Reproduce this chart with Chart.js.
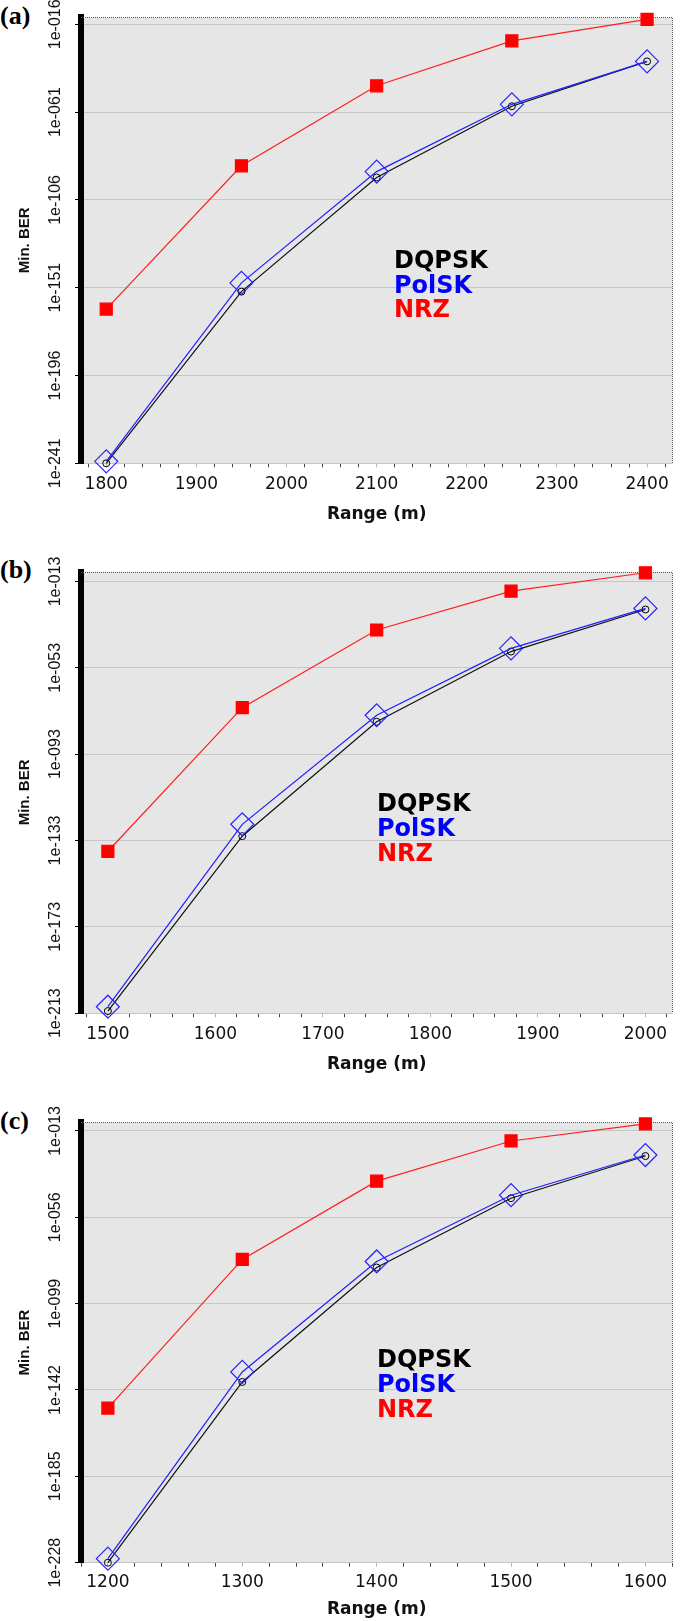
<!DOCTYPE html>
<html>
<head>
<meta charset="utf-8">
<script src="https://cdn.jsdelivr.net/npm/chart.js@4.4.1/dist/chart.umd.min.js"></script>
<style>
  html, body { margin: 0; padding: 0; background: #fff; overflow: hidden; }
  body { width: 685px; height: 1621px; position: relative; }
  canvas { position: absolute; left: 0; }
  .tag { position: absolute; left: 0; font: bold 26px "Liberation Serif", serif; line-height: 26px; color: #000; }
</style>
</head>
<body>
<div class="tag" style="top:3px">(a)</div>
<div class="tag" style="top:557px">(b)</div>
<div class="tag" style="top:1108px">(c)</div>
<canvas id="chartA" width="685" height="530" style="top:0px"></canvas>
<canvas id="chartB" width="685" height="530" style="top:550px"></canvas>
<canvas id="chartC" width="685" height="521" style="top:1100px"></canvas>
<script>
// y values are log10(Min. BER), the axis prints them as 1e-xxx
const seriesNames = ['DQPSK', 'PolSK', 'NRZ'];
const seriesColors = ['#000000', '#0000ff', '#ff0000'];

// (a)
const rangeA = [1800, 1950, 2100, 2250, 2400];
const dqpskA = [-241, -153, -94.5, -58, -35];
const polskA = [-240, -148.5, -91.5, -57, -35];
const nrzA = [-162, -88.5, -47.5, -24.5, -13.5];
const xLabelsA = [1800, 1900, 2000, 2100, 2200, 2300, 2400];
const yTicksA = [-241, -196, -151, -106, -61, -16];

// (b)
const rangeB = [1500, 1625, 1750, 1875, 2000];
const dqpskB = [-212, -131, -78, -45.5, -26];
const polskB = [-210, -125.5, -75, -44, -25.5];
const nrzB = [-138, -71.5, -35.5, -17.5, -9];
const xLabelsB = [1500, 1600, 1700, 1800, 1900, 2000];
const yTicksB = [-213, -173, -133, -93, -53, -13];

// (c)
const rangeC = [1200, 1300, 1400, 1500, 1600];
const dqpskC = [-228, -138, -81, -46.5, -25.5];
const polskC = [-226, -133, -78, -45, -25];
const nrzC = [-151, -77, -38, -18, -9.5];
const xLabelsC = [1200, 1300, 1400, 1500, 1600];
const yTicksC = [-228, -185, -142, -99, -56, -13];

// grey plot area, dotted top/right frame and the text legend
const panelDeco = {
  id: 'panelDeco',
  beforeDraw(chart) {
    const { ctx, chartArea: a } = chart;
    ctx.save();
    ctx.fillStyle = '#e6e6e6';
    ctx.fillRect(a.left, a.top, a.right - a.left, a.bottom - a.top);
    ctx.restore();
  },
  beforeDatasetsDraw(chart) {
    const { ctx, chartArea: a } = chart;
    const t = Math.round(a.top) + 0.5;
    const r = Math.round(a.right) + 0.5;
    ctx.save();
    ctx.strokeStyle = '#555';
    ctx.lineWidth = 1;
    ctx.setLineDash([1, 1]);
    ctx.beginPath();
    ctx.moveTo(a.left, t);
    ctx.lineTo(r, t);
    ctx.lineTo(r, a.bottom);
    ctx.stroke();
    ctx.restore();
  },
  afterDatasetsDraw(chart, args, opts) {
    const { ctx, chartArea: a } = chart;
    ctx.save();
    ctx.font = 'bold 24px "DejaVu Sans", sans-serif';
    ctx.textAlign = 'left';
    ctx.textBaseline = 'alphabetic';
    seriesNames.forEach((name, i) => {
      ctx.fillStyle = seriesColors[i];
      ctx.fillText(name, a.left + opts.dx, a.top + opts.dy + i * opts.step);
    });
    ctx.restore();
  }
};

function pts(xs, ys) {
  return ys.map((v, i) => ({ x: xs[i], y: v }));
}

function makeChart(cfg) {
  const minorTicks = [];
  for (let v = Math.ceil(cfg.xMin / 20) * 20; v <= cfg.xMax; v += 20) minorTicks.push(v);

  return new Chart(document.getElementById(cfg.id), {
    type: 'line',
    data: {
      datasets: [
        {
          label: 'PolSK',
          data: pts(cfg.range, cfg.polsk),
          borderColor: '#1f1fff',
          borderWidth: 1.2,
          pointStyle: 'rectRot',
          pointRadius: 11.5,
          pointBorderColor: '#2424ff',
          pointBackgroundColor: 'rgba(0,0,0,0)',
          pointBorderWidth: 1.2,
          order: 0
        },
        {
          label: 'DQPSK',
          data: pts(cfg.range, cfg.dqpsk),
          borderColor: '#111',
          borderWidth: 1.2,
          pointStyle: 'circle',
          pointRadius: 3.5,
          pointBorderColor: '#000',
          pointBackgroundColor: 'rgba(0,0,0,0)',
          pointBorderWidth: 1,
          order: 1
        },
        {
          label: 'NRZ',
          data: pts(cfg.range, cfg.nrz),
          borderColor: '#ff1f1f',
          borderWidth: 1.2,
          pointStyle: 'rect',
          pointRadius: 8.5,
          pointBorderColor: '#ff0000',
          pointBackgroundColor: '#ff0000',
          order: 2
        }
      ]
    },
    options: {
      responsive: false,
      animation: false,
      events: [],
      layout: { padding: { top: cfg.padTop, right: 5, left: 0, bottom: 0 } },
      elements: { line: { tension: 0 } },
      datasets: { line: { clip: false } },
      scales: {
        x: {
          type: 'linear',
          min: cfg.xMin,
          max: cfg.xMax,
          afterBuildTicks: s => { s.ticks = minorTicks.map(v => ({ value: v })); },
          afterFit: s => { s.height = cfg.xHeight; },
          ticks: {
            autoSkip: false,
            maxRotation: 0,
            padding: cfg.xPad,
            color: '#111',
            font: { family: 'DejaVu Sans', size: 17 },
            callback: v => cfg.xLabels.includes(v) ? String(v) : ''
          },
          grid: {
            drawOnChartArea: false,
            tickLength: 4,
            tickColor: c => (c.tick && cfg.xLabels.includes(c.tick.value)) ? '#b4b4b4' : '#444'
          },
          border: { display: false },
          title: {
            display: true,
            text: 'Range (m)',
            color: '#111',
            font: { family: 'DejaVu Sans', size: 17, weight: 'bold' },
            padding: { top: 0, bottom: cfg.titlePad }
          }
        },
        y: {
          type: 'linear',
          min: cfg.yTicks[0],
          max: cfg.yMax,
          afterBuildTicks: s => { s.ticks = cfg.yTicks.map(v => ({ value: v })); },
          afterFit: s => { s.width = 81; },
          ticks: {
            autoSkip: false,
            minRotation: 90,
            maxRotation: 90,
            crossAlign: 'center',
            padding: -6,
            color: '#111',
            font: { family: 'Liberation Sans', size: 16 },
            callback: v => '1e-' + String(Math.round(-v)).padStart(3, '0')
          },
          grid: { color: '#c6c6c6', lineWidth: 1, tickLength: 6, tickColor: '#000' },
          border: { display: true, color: '#000', width: 6 },
          title: {
            display: true,
            text: 'Min. BER',
            color: '#111',
            font: { family: 'Liberation Sans', size: 15, weight: 'bold' },
            padding: { top: 16, bottom: 0 }
          }
        }
      },
      plugins: {
        legend: { display: false },
        tooltip: { enabled: false },
        panelDeco: { dx: cfg.legendDx, dy: cfg.legendDy, step: cfg.legendStep }
      }
    },
    plugins: [panelDeco]
  });
}

makeChart({
  id: 'chartA', range: rangeA, dqpsk: dqpskA, polsk: polskA, nrz: nrzA,
  xMin: 1772, xMax: 2428, xLabels: xLabelsA, yTicks: yTicksA, yMax: -12.4,
  padTop: 17.3, xHeight: 66.7, xPad: 7.5, titlePad: 4.8,
  legendDx: 313, legendDy: 251, legendStep: 24.5
});

makeChart({
  id: 'chartB', range: rangeB, dqpsk: dqpskB, polsk: polskB, nrz: nrzB,
  xMin: 1475, xMax: 2025, xLabels: xLabelsB, yTicks: yTicksB, yMax: -8.5,
  padTop: 21.7, xHeight: 66.8, xPad: 7.5, titlePad: 4.8,
  legendDx: 296, legendDy: 239, legendStep: 25
});

makeChart({
  id: 'chartC', range: rangeC, dqpsk: dqpskC, polsk: polskC, nrz: nrzC,
  xMin: 1180, xMax: 1620, xLabels: xLabelsC, yTicks: yTicksC, yMax: -8.7,
  padTop: 22.3, xHeight: 58.3, xPad: 6, titlePad: 0.8,
  legendDx: 296, legendDy: 245, legendStep: 25
});
</script>
</body>
</html>
